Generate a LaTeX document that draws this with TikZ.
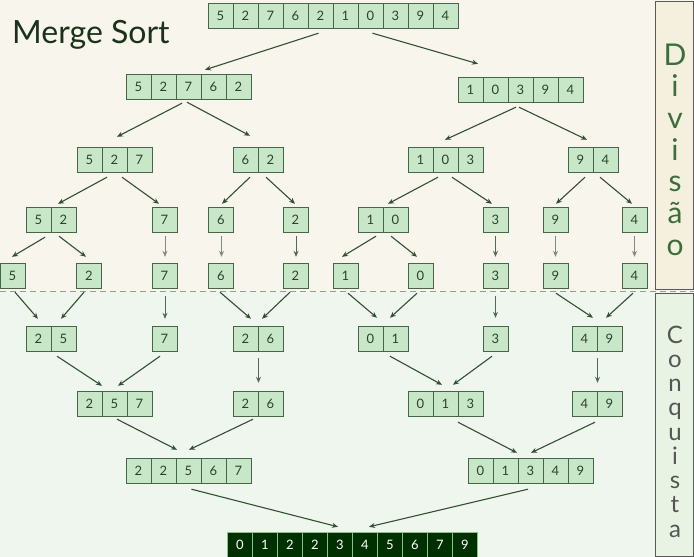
\documentclass[tikz,border=0pt]{standalone}
\usepackage{fontspec}
\setmainfont{Lato}
\usetikzlibrary{arrows.meta,calc}
\definecolor{bgtop}{RGB}{248,245,236}
\definecolor{bgbot}{RGB}{239,246,237}
\definecolor{paneltop}{RGB}{245,239,222}
\definecolor{panelbot}{RGB}{232,243,228}
\definecolor{cellfill}{RGB}{200,230,200}
\definecolor{cellline}{RGB}{70,100,70}
\definecolor{txt}{RGB}{45,65,45}
\definecolor{arrowc}{RGB}{50,80,50}
\definecolor{lightarrow}{RGB}{125,140,125}
\definecolor{darkcell}{RGB}{0,48,0}
\definecolor{darkline}{RGB}{140,190,140}
\newcommand\noskiplimit{\lineskiplimit=-100pt\relax}
\tikzset{
  cell/.style={draw=cellline, fill=cellfill, line width=0.8pt, minimum size=25pt,
    inner sep=0pt, text=txt, font=\fontsize{13}{13}\selectfont},
  fcell/.style={draw=darkline, fill=darkcell, line width=0.8pt, minimum size=25pt,
    inner sep=0pt, text=white, font=\fontsize{13}{13}\selectfont},
  arrframe/.style={inner sep=0pt, minimum height=25pt},
  arr/.style={draw=arrowc, line width=1.1pt, -{Stealth[length=6pt,width=5pt]}},
  varr/.style={arr, line width=0.8pt, draw=arrowc!85},
  larr/.style={arr, line width=0.8pt, draw=lightarrow},
  sidelabel/.style={inner sep=0pt, align=center, anchor=north},
}
\newcommand\mkarr[6][cell]{%
  \node[arrframe, minimum width={#3*25pt}] (#2) at ({#4+#3*12.5},#5) {};
  \foreach \v [count=\i] in {#6} {
    \node[#1] (#2-\i) at ({#4+(\i-0.5)*25},#5) {\v};
  }%
}
\newcommand\con[5][arr]{\draw[#1] ([shift={(#3)}]#2.south) -- ([shift={(#5)}]#4.north);}
\begin{document}
\begin{tikzpicture}[x=1pt,y=-1pt]
\useasboundingbox (0,0) rectangle (694,557);
% backgrounds
\fill[bgtop] (0,0) rectangle (694,291);
\fill[bgbot] (0,291) rectangle (694,557);
\fill[paneltop] (655,1) rectangle (693,289);
\draw[gray!70!black, line width=0.9pt] (655,1) rectangle (693,289);
\fill[panelbot] (655,293) rectangle (693,556);
\draw[gray!70!black, line width=0.9pt] (655,293) rectangle (693,556);
\draw[gray!80, dash pattern=on 6pt off 4pt, line width=1pt] (0,291) -- (694,291);
% title
\node[anchor=base west, inner sep=0pt, text={rgb,255:red,25;green,50;blue,25},
  font=\fontsize{32}{32}\selectfont] (title) at (12,43) {Merge Sort};
% side labels
\node[sidelabel, text={rgb,255:red,60;green,110;blue,60},
  font=\fontsize{30}{31.7}\selectfont\noskiplimit] (divisao) at (675,43.5)
  {D\\i\\v\\i\\s\\ã\\o};
\node[sidelabel, text={rgb,255:red,85;green,85;blue,85},
  font=\fontsize{24}{24.25}\selectfont\noskiplimit] (conquista) at (675,325.5)
  {C\\o\\n\\q\\u\\i\\s\\t\\a};
% arrays
\mkarr{a0}{10}{208}{15.5}{5,2,7,6,2,1,0,3,9,4}
\mkarr{L1}{5}{126}{86.5}{5,2,7,6,2}
\mkarr{R1}{5}{458}{90}{1,0,3,9,4}
\mkarr{L2a}{3}{77}{159.5}{5,2,7}
\mkarr{L2b}{2}{233}{159.5}{6,2}
\mkarr{R2a}{3}{408}{159.5}{1,0,3}
\mkarr{R2b}{2}{568}{159.5}{9,4}
\mkarr{L3a}{2}{26}{220}{5,2}
\mkarr{L3b}{1}{152}{220}{7}
\mkarr{L3c}{1}{208.5}{220}{6}
\mkarr{L3d}{1}{283}{220}{2}
\mkarr{R3a}{2}{358}{220}{1,0}
\mkarr{R3b}{1}{483}{220}{3}
\mkarr{R3c}{1}{543}{220}{9}
\mkarr{R3d}{1}{622}{220}{4}
\mkarr{L4a}{1}{0}{276}{5}
\mkarr{L4b}{1}{76.5}{276}{2}
\mkarr{L4c}{1}{152}{276}{7}
\mkarr{L4d}{1}{208.5}{276}{6}
\mkarr{L4e}{1}{283}{276}{2}
\mkarr{R4a}{1}{333}{276}{1}
\mkarr{R4b}{1}{408}{276}{0}
\mkarr{R4c}{1}{483}{276}{3}
\mkarr{R4d}{1}{543}{276}{9}
\mkarr{R4e}{1}{622}{276}{4}
\mkarr{M5a}{2}{26}{338.5}{2,5}
\mkarr{M5b}{1}{152}{338.5}{7}
\mkarr{M5c}{2}{233}{338.5}{2,6}
\mkarr{M5d}{2}{358}{338.5}{0,1}
\mkarr{M5e}{1}{483}{338.5}{3}
\mkarr{M5f}{2}{572}{338.5}{4,9}
\mkarr{M6a}{3}{77}{403.5}{2,5,7}
\mkarr{M6b}{2}{233}{403.5}{2,6}
\mkarr{M6c}{3}{408}{403.5}{0,1,3}
\mkarr{M6d}{2}{572}{403.5}{4,9}
\mkarr{M7a}{5}{126}{470.5}{2,2,5,6,7}
\mkarr{M7b}{5}{468}{470.5}{0,1,3,4,9}
\mkarr[fcell]{F}{10}{227.5}{544.5}{0,1,2,2,3,4,5,6,7,9}
% divide arrows
\con{a0}{-14.5,5}{L1}{16.5,-4}
\con{a0}{39.5,5}{R1}{-42.5,-13.5}
\con{L1}{-6.5,4}{L2a}{2.5,-10}
\con{L1}{-1.5,3}{L2b}{-8,-11}
\con{R1}{-4.5,4.5}{R2a}{-0.5,-7}
\con{R1}{-1.5,4.5}{R2b}{-6,-7}
\con{L2a}{-7.5,5}{L3a}{7,-3.5}
\con{L2a}{7.5,5}{L3b}{-5.5,-3.5}
\con{L2b}{-8,5}{L3c}{1,-3.5}
\con{L2b}{8,5}{L3d}{-0.5,-3.5}
\con{R2a}{-7.5,5}{R3a}{5,-3.5}
\con{R2a}{6.5,5}{R3b}{-3.5,-3.5}
\con{R2b}{-8,5}{R3c}{0.5,-3.5}
\con{R2b}{7,5}{R3d}{-2.5,-3.5}
\con{L3a}{-6,4.5}{L4a}{-0.5,-6.5}
\con{L3a}{8,3.5}{L4b}{-3,-6.5}
\con[larr]{L3b}{0.5,3}{L4c}{0.5,-6.5}
\con[larr]{L3c}{0.5,3}{L4d}{0.5,-6.5}
\con[varr]{L3d}{0.5,3}{L4e}{0.5,-6.5}
\con{R3a}{-7,3.5}{R4a}{-3.5,-6.5}
\con{R3a}{8,3.5}{R4b}{-3.5,-6.5}
\con[varr]{R3b}{0,3}{R4c}{0,-6.5}
\con[larr]{R3c}{0,3}{R4d}{0,-6.5}
\con[larr]{R3d}{0,3}{R4e}{0,-6.5}
% conquer arrows
\con{L4a}{2.5,3.5}{M5a}{-13,-7}
\con{L4b}{-5,3.5}{M5a}{10,-7}
\con[varr]{L4c}{0.5,7.5}{M5b}{0.5,-7}
\con{L4d}{-1,3.5}{M5c}{-7,-7}
\con{L4e}{-5.5,3.5}{M5c}{4,-7}
\con{R4a}{2.5,4.5}{M5d}{-6,-8}
\con{R4b}{-3.5,4.5}{M5d}{7,-8}
\con[varr]{R4c}{0,7.5}{M5e}{0,-8}
\con{R4d}{0.5,4.5}{M5f}{-4,-8}
\con{R4e}{-1.5,4.5}{M5f}{9,-8}
\con{M5a}{6,5}{M6a}{-12.5,-5}
\con{M5b}{-4.5,5}{M6a}{3.5,-5}
\con[varr]{M5c}{0.5,7}{M6b}{0.5,-8}
\con{M5d}{7,5}{M6c}{-3.5,-6}
\con{M5e}{-3.5,5}{M6c}{7.5,-6}
\con[varr]{M5f}{0.5,7}{M6d}{0.5,-8}
\con{M6a}{2.5,3}{M7a}{-11.5,-8}
\con{M6b}{-5,3}{M7a}{0.5,-8}
\con{M6c}{12.5,6}{M7b}{-13.5,-5}
\con{M6d}{-2,6}{M7b}{0.5,-5}
\con{M7a}{3,6}{F}{-14.5,-5}
\con{M7b}{-2.5,6}{F}{16.5,-5}
\end{tikzpicture}
\end{document}
